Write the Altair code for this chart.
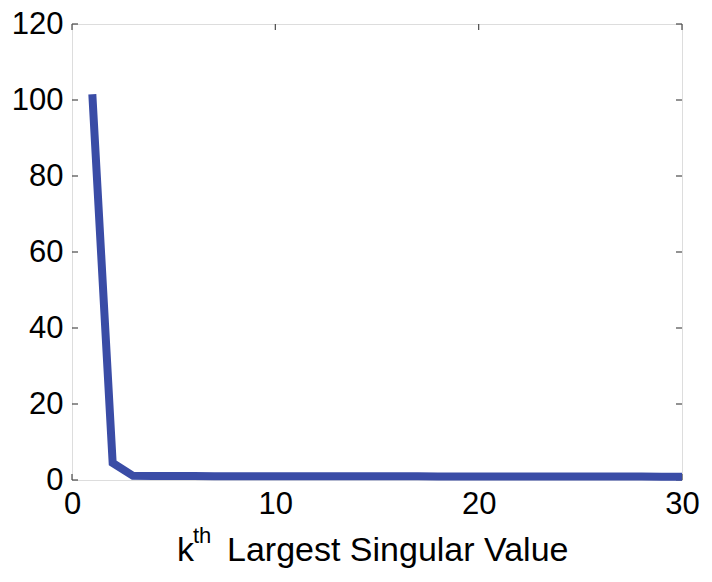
import altair as alt
import pandas as pd

k_values = list(range(1, 31))
singular_values = [101.5, 4.5, 1.1, 1.05, 1.03, 1.02, 1.01, 1.0, 1.0, 0.99,
                   0.99, 0.98, 0.98, 0.97, 0.97, 0.96, 0.96, 0.95, 0.95, 0.94,
                   0.94, 0.93, 0.92, 0.92, 0.91, 0.9, 0.9, 0.89, 0.88, 0.87]
x_ticks = [0, 10, 20, 30]
y_ticks = [0, 20, 40, 60, 80, 100, 120]
title_k = "k"
title_sup = "th"
title_rest = "Largest Singular Value"

W, H = 610, 456
FONT = "Liberation Sans"
FRAME = "#4a4a4a"
LINE = "#3a4ca6"

df = pd.DataFrame({"k": k_values, "s": singular_values})
xt = pd.DataFrame({"xt": x_ticks})
yt = pd.DataFrame({"yt": y_ticks})

xscale = alt.Scale(domain=[0, 30], nice=False, zero=False)
yscale = alt.Scale(domain=[0, 120], nice=False, zero=False)

xaxis = alt.Axis(values=x_ticks, title=None, ticks=False, domain=False, grid=False,
                 labelFont=FONT, labelFontSize=31, labelColor="black", labelPadding=9,
                 labelFlush=False)
yaxis = alt.Axis(values=y_ticks, title=None, ticks=False, domain=False, grid=False,
                 labelFont=FONT, labelFontSize=31, labelColor="black", labelPadding=9)

line = alt.Chart(df).mark_line(color=LINE, strokeWidth=8, strokeCap="butt",
                               strokeJoin="miter").encode(
    x=alt.X("k:Q", scale=xscale, axis=xaxis),
    y=alt.Y("s:Q", scale=yscale, axis=yaxis),
)

tick_style = dict(color=FRAME, strokeWidth=1.2)
ytick_left = alt.Chart(yt).mark_rule(**tick_style).encode(
    y=alt.Y("yt:Q", scale=yscale), x=alt.value(0), x2=alt.value(6))
ytick_right = alt.Chart(yt).mark_rule(**tick_style).encode(
    y=alt.Y("yt:Q", scale=yscale), x=alt.value(W), x2=alt.value(W - 6))
xtick_bottom = alt.Chart(xt).mark_rule(**tick_style).encode(
    x=alt.X("xt:Q", scale=xscale), y=alt.value(H), y2=alt.value(H - 6))
xtick_top = alt.Chart(xt).mark_rule(**tick_style).encode(
    x=alt.X("xt:Q", scale=xscale), y=alt.value(0), y2=alt.value(6))

t1 = alt.Chart(pd.DataFrame({"t": [title_k]})).mark_text(
    font=FONT, fontSize=34, align="left", baseline="alphabetic", color="black"
).encode(text="t:N", x=alt.value(105), y=alt.value(537))
t2 = alt.Chart(pd.DataFrame({"t": [title_sup]})).mark_text(
    font=FONT, fontSize=22, align="left", baseline="alphabetic", color="black"
).encode(text="t:N", x=alt.value(121), y=alt.value(519))
t3 = alt.Chart(pd.DataFrame({"t": [title_rest]})).mark_text(
    font=FONT, fontSize=34, align="left", baseline="alphabetic", color="black"
).encode(text="t:N", x=alt.value(155), y=alt.value(537))

chart = alt.layer(
    ytick_left, ytick_right, xtick_bottom, xtick_top, line, t1, t2, t3
).properties(
    width=W, height=H,
    autosize=alt.AutoSizeParams(type="none"),
    padding={"left": 64, "top": 16, "right": 20, "bottom": 90},
).configure_view(
    stroke=FRAME, strokeWidth=1.5
).configure(background="white")

chart.save("out.html", embed_options={"renderer": "svg", "actions": False})
